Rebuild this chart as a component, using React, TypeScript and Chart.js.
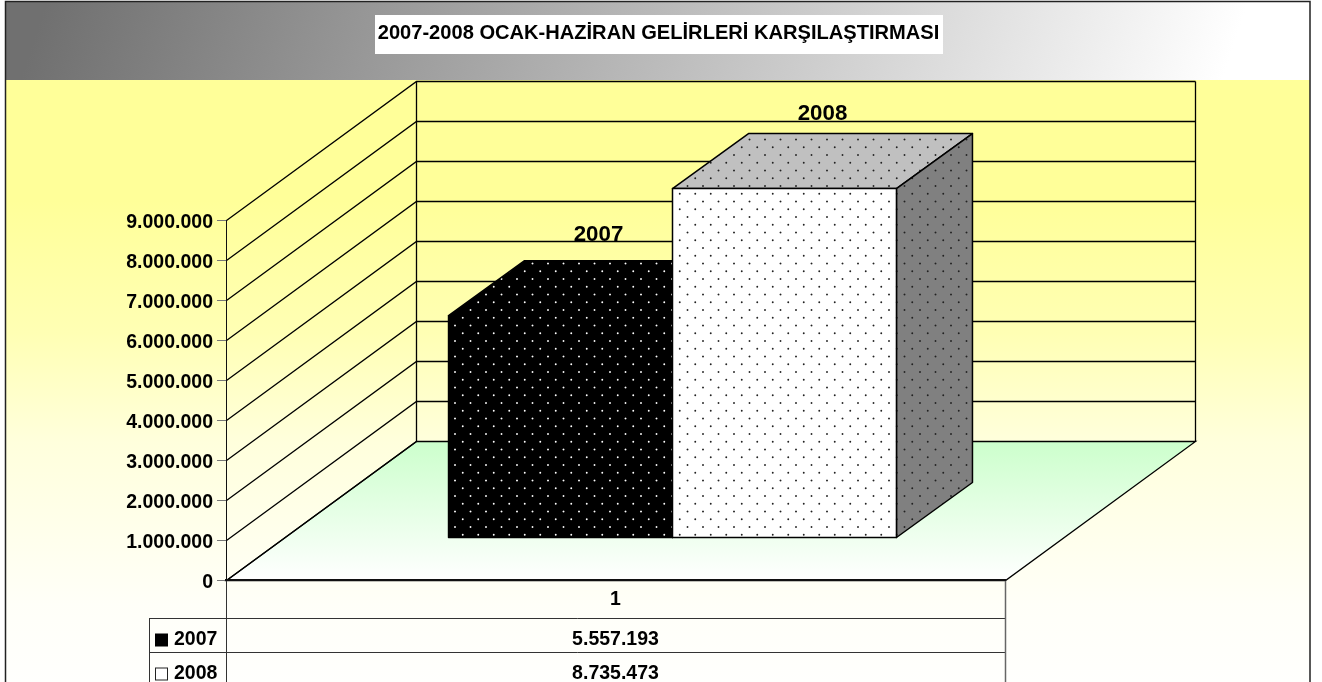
import React, { useEffect, useRef } from "react";
import { Chart, registerables } from "chart.js";

Chart.register(...registerables);

const TITLE = "2007-2008 OCAK-HAZİRAN GELİRLERİ KARŞILAŞTIRMASI";
const CATEGORIES = ["1"];
const SERIES_NAMES = ["2007", "2008"];
const VALUES_2007 = [5557193];
const VALUES_2008 = [8735473];
const Y_MAX = 9000000;
const Y_STEP = 1000000;

const FONT = "'Liberation Sans', Arial, sans-serif";
const fmt = (v: number) => String(v).replace(/\B(?=(\d{3})+(?!\d))/g, ".");

const WALL_DX = 190;
const WALL_DY = 139;
const BAR_OFF_X = 57;
const BAR_OFF_Y = 42;
const BAR_DX = 76;
const BAR_DY = 55;
const LABEL_RISE = [26, 20];

function dots(bg: string, dot: string) {
  const c = document.createElement("canvas");
  c.width = 31;
  c.height = 31;
  const g = c.getContext("2d")!;
  g.fillStyle = bg;
  g.fillRect(0, 0, 31, 31);
  g.fillStyle = dot;
  for (let r = -1; r < 5; r++) {
    for (let i = -1; i < 3; i++) {
      g.beginPath();
      g.arc(i * 15.5 + (r % 2 ? 7.75 : 0) + 0.5, r * 7.75 + 0.5, 0.95, 0, Math.PI * 2);
      g.fill();
    }
  }
  const p = g.createPattern(c, "repeat")!;
  // keep the dot lattice in screen space although bars are drawn shifted
  p.setTransform(new DOMMatrix().translate(532 % 31 - BAR_OFF_X, 263 % 31 + BAR_OFF_Y));
  return p;
}

const scenePlugin = {
  id: "scene",
  beforeDraw(chart: any) {
    const { ctx, scales } = chart;
    const area = chart.chartArea;
    const y = scales.y;
    const L = area.left + 0.5;
    const R = area.right + 0.5;
    const B = area.bottom + 0.5;
    const T = area.top + 0.5;
    ctx.save();
    // page and background
    ctx.fillStyle = "#fff";
    ctx.fillRect(0, 0, chart.width, chart.height);
    const frameL = 6, frameR = 1310, frameT = 2, bandB = 80, H = chart.height;
    const bodyG = ctx.createLinearGradient(0, bandB, 0, H);
    bodyG.addColorStop(0, "#FFFF99");
    bodyG.addColorStop(0.2, "#FFFF99");
    bodyG.addColorStop(0.42, "#FFFFB4");
    bodyG.addColorStop(0.6, "#FFFFDC");
    bodyG.addColorStop(0.87, "#FFFFF8");
    bodyG.addColorStop(1, "#FFFFFD");
    ctx.fillStyle = bodyG;
    ctx.fillRect(frameL, bandB, frameR - frameL, H - bandB);
    const bandG = ctx.createLinearGradient(frameL + 60, frameT - 60, 1150, 300);
    bandG.addColorStop(0, "#707070");
    bandG.addColorStop(1, "#FFFFFF");
    ctx.fillStyle = bandG;
    ctx.fillRect(frameL, frameT, frameR - frameL, bandB - frameT);
    ctx.strokeStyle = "#222";
    ctx.lineWidth = 1.5;
    ctx.beginPath();
    ctx.moveTo(5.5, H);
    ctx.lineTo(5.5, 1.5);
    ctx.lineTo(1310, 1.5);
    ctx.lineTo(1310, H);
    ctx.stroke();
    // title box
    ctx.fillStyle = "#fff";
    ctx.fillRect(375, 15, 568, 39);
    ctx.fillStyle = "#000";
    ctx.font = `bold 20.1px ${FONT}`;
    ctx.textAlign = "center";
    ctx.textBaseline = "middle";
    ctx.fillText(TITLE, 658.5, 33.5);
    // floor
    const floorG = ctx.createLinearGradient(0, B - WALL_DY, 0, B);
    floorG.addColorStop(0, "#CCFFCC");
    floorG.addColorStop(1, "#FFFFFF");
    ctx.fillStyle = floorG;
    ctx.beginPath();
    ctx.moveTo(L, B);
    ctx.lineTo(L + WALL_DX, B - WALL_DY);
    ctx.lineTo(R + WALL_DX, B - WALL_DY);
    ctx.lineTo(R, B);
    ctx.closePath();
    ctx.fill();
    ctx.strokeStyle = "#000";
    ctx.lineWidth = 1.3;
    ctx.stroke();
    // walls and grid
    y.ticks.forEach((t: any) => {
      const py = Math.round(y.getPixelForValue(t.value)) + 0.5;
      ctx.beginPath();
      ctx.moveTo(L, py);
      ctx.lineTo(L + WALL_DX, py - WALL_DY);
      if (t.value > 0) ctx.lineTo(R + WALL_DX, py - WALL_DY);
      ctx.stroke();
    });
    ctx.beginPath();
    ctx.moveTo(L + WALL_DX, T - WALL_DY);
    ctx.lineTo(L + WALL_DX, B - WALL_DY);
    ctx.moveTo(R + WALL_DX, T - WALL_DY);
    ctx.lineTo(R + WALL_DX, B - WALL_DY);
    ctx.stroke();
    // data table
    const rows = [618, 652];
    ctx.strokeStyle = "#333";
    ctx.lineWidth = 1;
    ctx.beginPath();
    ctx.moveTo(149, rows[0] + 0.5);
    ctx.lineTo(R, rows[0] + 0.5);
    ctx.moveTo(149, rows[1] + 0.5);
    ctx.lineTo(R, rows[1] + 0.5);
    ctx.moveTo(149.5, rows[0]);
    ctx.lineTo(149.5, H);
    ctx.moveTo(L, B);
    ctx.lineTo(L, H);
    ctx.stroke();
    ctx.strokeStyle = "#666";
    ctx.lineWidth = 1.5;
    ctx.beginPath();
    ctx.moveTo(R, B);
    ctx.lineTo(R, H);
    ctx.stroke();
    ctx.restore();
  },
  // The first series must lie behind the second one, so the library's own
  // bar controllers are run in series order, each shifted to its depth plane.
  beforeDatasetsDraw(chart: any) {
    const { ctx } = chart;
    chart.data.datasets.forEach((ds: any, i: number) => {
      const meta = chart.getDatasetMeta(i);
      ctx.save();
      ctx.translate(BAR_OFF_X, -BAR_OFF_Y);
      ctx.strokeStyle = "#000";
      ctx.lineWidth = 1.5;
      ctx.lineJoin = "round";
      meta.data.forEach((el: any) => {
        const l = el.x - el.width / 2;
        const r = el.x + el.width / 2;
        const t = el.y;
        const b = el.base;
        ctx.fillStyle = ds.topFill;
        ctx.beginPath();
        ctx.moveTo(l, t);
        ctx.lineTo(l + BAR_DX, t - BAR_DY);
        ctx.lineTo(r + BAR_DX, t - BAR_DY);
        ctx.lineTo(r, t);
        ctx.closePath();
        ctx.fill();
        ctx.stroke();
        ctx.fillStyle = ds.sideFill;
        ctx.beginPath();
        ctx.moveTo(r, t);
        ctx.lineTo(r + BAR_DX, t - BAR_DY);
        ctx.lineTo(r + BAR_DX, b - BAR_DY);
        ctx.lineTo(r, b);
        ctx.closePath();
        ctx.fill();
        ctx.stroke();
      });
      meta.controller.draw();
      meta.data.forEach((el: any) => {
        ctx.strokeRect(el.x - el.width / 2, el.y, el.width, el.base - el.y);
      });
      ctx.restore();
    });
    return false;
  },
  afterDraw(chart: any) {
    const { ctx, scales } = chart;
    const cx = scales.x.getPixelForValue(0);
    const rowText = [640, 674];
    ctx.save();
    ctx.textBaseline = "middle";
    chart.data.datasets.forEach((ds: any, i: number) => {
      const el = chart.getDatasetMeta(i).data[0];
      const px = el.x + BAR_OFF_X + BAR_DX / 2;
      const py = el.y - BAR_OFF_Y - BAR_DY - LABEL_RISE[i];
      ctx.fillStyle = "#000";
      ctx.textAlign = "center";
      ctx.font = `bold 22.3px ${FONT}`;
      ctx.fillText(ds.label, px, py);
      ctx.font = `bold 19.5px ${FONT}`;
      ctx.fillText(fmt(ds.data[0]), cx, rowText[i]);
      ctx.textAlign = "left";
      ctx.fillText(ds.label, 174, rowText[i]);
      // legend key
      ctx.fillStyle = i === 0 ? "#000" : "#fff";
      ctx.strokeStyle = i === 0 ? "#000" : "#222";
      ctx.lineWidth = 1;
      ctx.fillRect(155.5, rowText[i] - 6, 12, 12);
      ctx.strokeRect(155.5, rowText[i] - 6, 12, 12);
    });
    ctx.restore();
  },
};

export default function App() {
  const ref = useRef<HTMLCanvasElement>(null);
  useEffect(() => {
    document.body.style.margin = "0";
    const ctx = ref.current!.getContext("2d")!;
    const chart = new Chart(ctx, {
      type: "bar",
      data: {
        labels: CATEGORIES,
        datasets: [
          {
            label: SERIES_NAMES[0],
            data: VALUES_2007,
            clip: false,
            backgroundColor: dots("#000000", "#FFFFFF"),
            topFill: dots("#000000", "#FFFFFF"),
            sideFill: dots("#000000", "#FFFFFF"),
            borderWidth: 0,
          },
          {
            label: SERIES_NAMES[1],
            data: VALUES_2008,
            clip: false,
            backgroundColor: dots("#FFFFFF", "#222222"),
            topFill: dots("#C0C0C0", "#222222"),
            sideFill: dots("#808080", "#222222"),
            borderWidth: 0,
          },
        ] as any,
      },
      options: {
        responsive: false,
        animation: false,
        layout: { padding: { left: 0, right: 317, top: 220, bottom: 0 } },
        datasets: { bar: { categoryPercentage: 0.575, barPercentage: 1 } },
        plugins: { legend: { display: false }, title: { display: false }, tooltip: { enabled: false } },
        scales: {
          x: {
            afterFit: (s: any) => { s.height = 102; },
            grid: { display: false, drawTicks: false },
            border: { color: "#111", width: 2 },
            ticks: { color: "#000", padding: 8, font: { family: FONT, weight: "bold", size: 19.5 } },
          },
          y: {
            min: 0,
            max: Y_MAX,
            afterFit: (s: any) => { s.width = 226; },
            grid: { drawOnChartArea: false, drawTicks: true, tickLength: 9, tickColor: "#777" },
            border: { color: "#111", width: 1 },
            ticks: {
              stepSize: Y_STEP,
              color: "#000",
              padding: 4,
              labelOffset: 2.5,
              autoSkip: false,
              callback: (v: any) => fmt(Number(v)),
              font: { family: FONT, weight: "bold", size: 19.5 },
            },
          },
        },
      } as any,
      plugins: [scenePlugin as any],
    });
    return () => chart.destroy();
  }, []);
  return <canvas ref={ref} width={1322} height={682} style={{ display: "block" }} />;
}
